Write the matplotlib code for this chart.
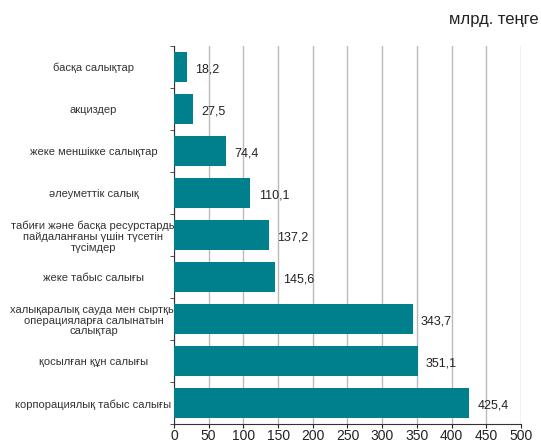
import numpy as np
import matplotlib.pyplot as plt

categories = [
    "басқа салықтар",
    "акциздер",
    "жеке меншікке салықтар",
    "әлеуметтік салық",
    "табиғи және басқа ресурстарды\nпайдаланғаны үшін түсетін\nтүсімдер",
    "жеке табыс салығы",
    "халықаралық сауда мен сыртқы\nоперацияларға салынатын\nсалықтар",
    "қосылған құн салығы",
    "корпорациялық табыс салығы",
]
values = [18.2, 27.5, 74.4, 110.1, 137.2, 145.6, 343.7, 351.1, 425.4]
xticks = [0, 50, 100, 150, 200, 250, 300, 350, 400, 450, 500]

plt.rcParams['font.family'] = ['Liberation Sans', 'DejaVu Sans']

fig = plt.figure(figsize=(5.41, 4.42), dpi=100)
ax = fig.add_axes([0.3216, 0.04, 0.6414, 0.856])

y = np.arange(len(categories))
ax.barh(y, values, height=0.72, color='#007F8C', zorder=3)

for yi, v in zip(y, values):
    ax.text(v + 12, yi + 0.05, f"{v:.1f}".replace('.', ','), va='center', ha='left',
            fontsize=9, color='#222222', zorder=4)

ax.set_xlim(0, 500)
ax.set_ylim(len(categories) - 0.5, -0.5)
ax.set_xticks(xticks)
ax.tick_params(axis='x', labelsize=10, colors='#222222', length=3, pad=0.5)
ax.set_yticks(y)
ax.set_yticklabels(categories, fontsize=8, color='#333333', linespacing=1.1,
                   ha='center', multialignment='center')
ax.set_yticks(np.arange(len(categories) + 1) - 0.5, minor=True)
ax.tick_params(axis='y', which='major', length=0, pad=58)
ax.tick_params(axis='y', which='minor', length=3, color='#333333')

ax.grid(axis='x', color='#BBBBBB', linewidth=1, zorder=0)
for s in ['top', 'right']:
    ax.spines[s].set_visible(False)
ax.spines['left'].set_color('#333333')
ax.spines['bottom'].set_color('#333333')

fig.text(0.995, 0.955, "млрд. теңге", ha='right', va='center', fontsize=12, color='#222222')

fig.savefig('out.png', dpi=100)
